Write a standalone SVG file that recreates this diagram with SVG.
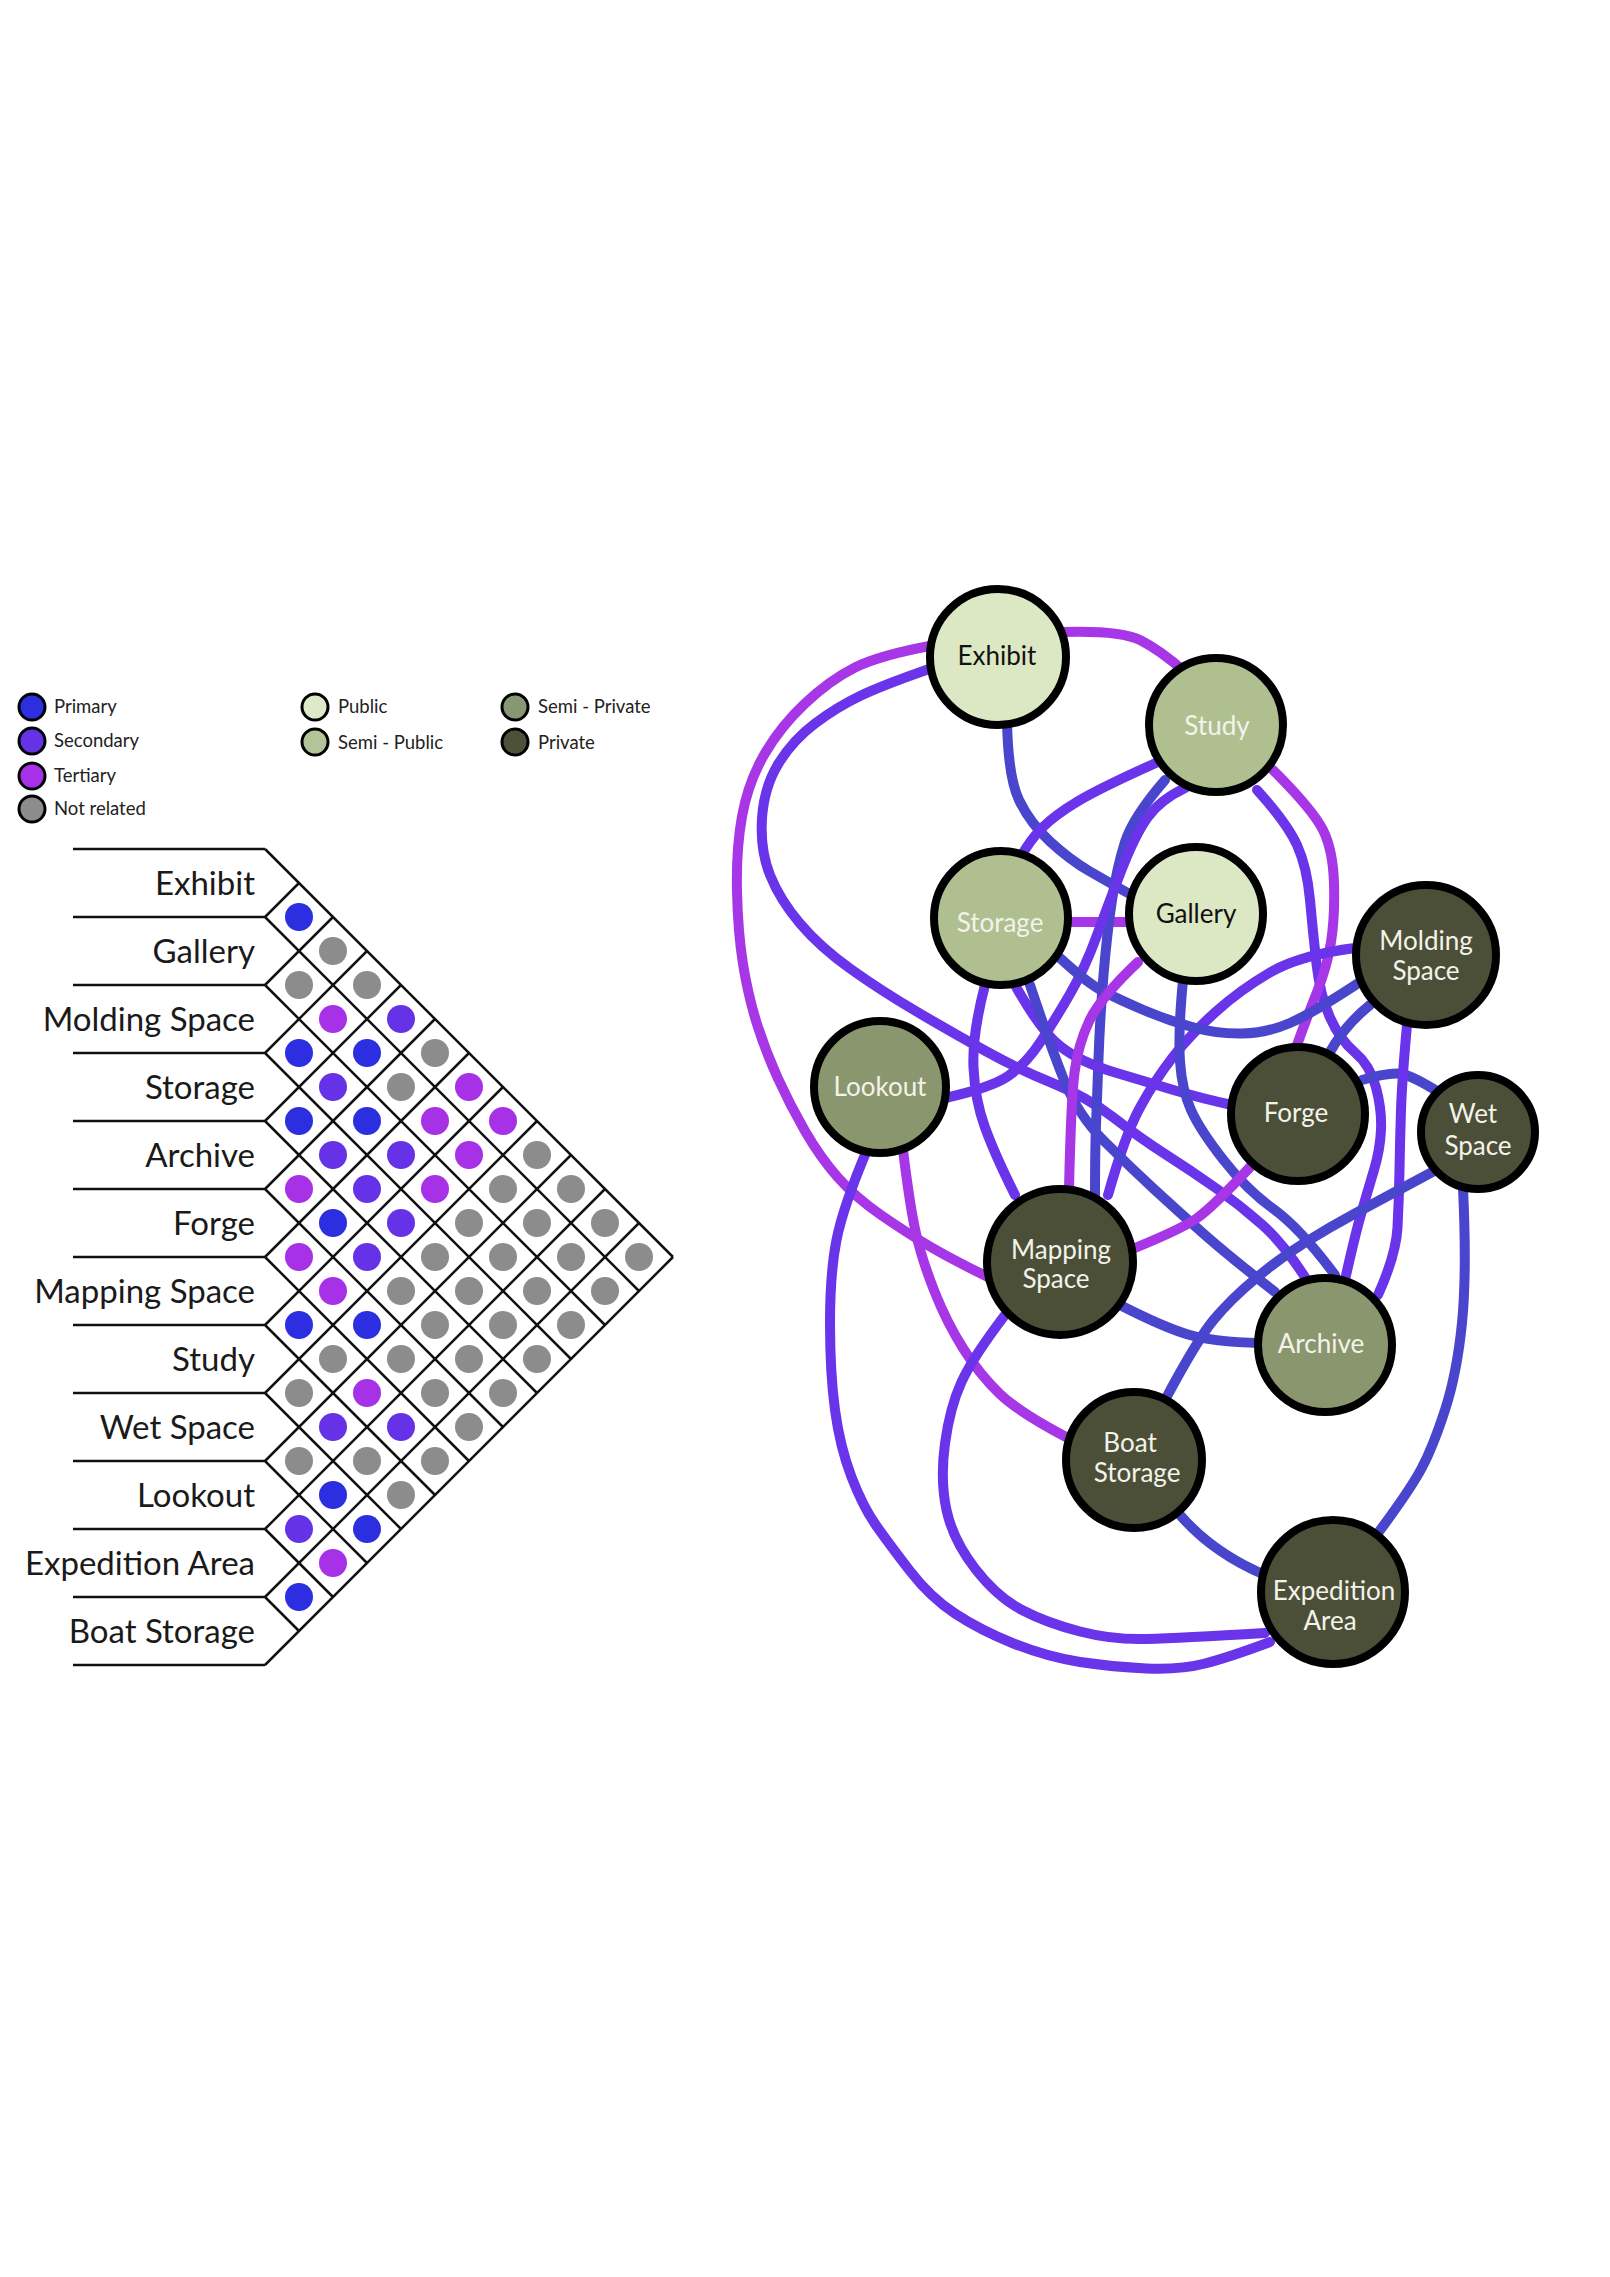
<svg xmlns="http://www.w3.org/2000/svg" width="1610" height="2277" viewBox="0 0 1610 2277">
<style>
.ln{fill:none;stroke-width:10;stroke-linecap:round;stroke-linejoin:round}
.p{stroke:#4946cd}.s{stroke:#6a34ea}.t{stroke:#a636e6}
.nd{stroke:#000;stroke-width:8}
.pub{fill:#dce8c4}.spub{fill:#afbf90}.spri{fill:#8a976e}.pri{fill:#4c4f38}
.lbl{font-family:Lato,"Liberation Sans",sans-serif;font-size:26px;text-anchor:middle}
.lk{fill:#111}.lw{fill:#f3f3ea}
.mt{font-family:Lato,"Liberation Sans",sans-serif;font-size:33px;text-anchor:end;fill:#1a1a1a}
.lg{font-family:Lato,"Liberation Sans",sans-serif;font-size:18.5px;fill:#222}
.grid{stroke:#111;stroke-width:2.5;fill:none}
.lc{stroke:#000;stroke-width:3}
.cp{fill:#2b2fe0}.cs{fill:#6632e8}.ct{fill:#a631e6}.cn{fill:#8c8c8c}
</style>
<rect width="1610" height="2277" fill="#fff"/>

<g id="legend">
<circle class="lc cp" cx="32" cy="707" r="13"/><text class="lg" x="54" y="713">Primary</text>
<circle class="lc cs" cx="32" cy="741" r="13"/><text class="lg" x="54" y="747">Secondary</text>
<circle class="lc ct" cx="32" cy="776" r="13"/><text class="lg" x="54" y="782">Tertiary</text>
<circle class="lc cn" cx="32" cy="809" r="13"/><text class="lg" x="54" y="815">Not related</text>
<circle class="lc" fill="#dde9c8" cx="315" cy="707" r="13"/><text class="lg" x="338" y="713">Public</text>
<circle class="lc" fill="#b3c498" cx="315" cy="742" r="13"/><text class="lg" x="338" y="749">Semi - Public</text>
<circle class="lc" fill="#879774" cx="515" cy="707" r="13"/><text class="lg" x="538" y="713">Semi - Private</text>
<circle class="lc" fill="#4d5139" cx="515" cy="742" r="13"/><text class="lg" x="538" y="749">Private</text>
</g>

<g id="matrix">
<path class="grid" d="M73,849H265M73,917H265M73,985H265M73,1053H265M73,1121H265M73,1189H265M73,1257H265M73,1325H265M73,1393H265M73,1461H265M73,1529H265M73,1597H265M73,1665H265
M265,849L673,1257M265,917L639,1291M265,985L605,1325M265,1053L571,1359M265,1121L537,1393M265,1189L503,1427M265,1257L469,1461M265,1325L435,1495M265,1393L401,1529M265,1461L367,1563M265,1529L333,1597M265,1597L299,1631
M265,917L299,883M265,985L333,917M265,1053L367,951M265,1121L401,985M265,1189L435,1019M265,1257L469,1053M265,1325L503,1087M265,1393L537,1121M265,1461L571,1155M265,1529L605,1189M265,1597L639,1223M265,1665L673,1257"/>
<text class="mt" x="255" y="895">Exhibit</text>
<text class="mt" x="255" y="963">Gallery</text>
<text class="mt" x="255" y="1031">Molding Space</text>
<text class="mt" x="255" y="1099">Storage</text>
<text class="mt" x="255" y="1167">Archive</text>
<text class="mt" x="255" y="1235">Forge</text>
<text class="mt" x="255" y="1303">Mapping Space</text>
<text class="mt" x="255" y="1371">Study</text>
<text class="mt" x="255" y="1439">Wet Space</text>
<text class="mt" x="255" y="1507">Lookout</text>
<text class="mt" x="255" y="1575">Expedition Area</text>
<text class="mt" x="255" y="1643">Boat Storage</text>
<g id="matrix-dots">
<circle class="cp" cx="299" cy="917" r="14"/>
<circle class="cn" cx="333" cy="951" r="14"/>
<circle class="cn" cx="299" cy="985" r="14"/>
<circle class="cn" cx="367" cy="985" r="14"/>
<circle class="ct" cx="333" cy="1019" r="14"/>
<circle class="cs" cx="401" cy="1019" r="14"/>
<circle class="cp" cx="299" cy="1053" r="14"/>
<circle class="cp" cx="367" cy="1053" r="14"/>
<circle class="cn" cx="435" cy="1053" r="14"/>
<circle class="cs" cx="333" cy="1087" r="14"/>
<circle class="cn" cx="401" cy="1087" r="14"/>
<circle class="ct" cx="469" cy="1087" r="14"/>
<circle class="cp" cx="299" cy="1121" r="14"/>
<circle class="cp" cx="367" cy="1121" r="14"/>
<circle class="ct" cx="435" cy="1121" r="14"/>
<circle class="ct" cx="503" cy="1121" r="14"/>
<circle class="cs" cx="333" cy="1155" r="14"/>
<circle class="cs" cx="401" cy="1155" r="14"/>
<circle class="ct" cx="469" cy="1155" r="14"/>
<circle class="cn" cx="537" cy="1155" r="14"/>
<circle class="ct" cx="299" cy="1189" r="14"/>
<circle class="cs" cx="367" cy="1189" r="14"/>
<circle class="ct" cx="435" cy="1189" r="14"/>
<circle class="cn" cx="503" cy="1189" r="14"/>
<circle class="cn" cx="571" cy="1189" r="14"/>
<circle class="cp" cx="333" cy="1223" r="14"/>
<circle class="cs" cx="401" cy="1223" r="14"/>
<circle class="cn" cx="469" cy="1223" r="14"/>
<circle class="cn" cx="537" cy="1223" r="14"/>
<circle class="cn" cx="605" cy="1223" r="14"/>
<circle class="ct" cx="299" cy="1257" r="14"/>
<circle class="cs" cx="367" cy="1257" r="14"/>
<circle class="cn" cx="435" cy="1257" r="14"/>
<circle class="cn" cx="503" cy="1257" r="14"/>
<circle class="cn" cx="571" cy="1257" r="14"/>
<circle class="cn" cx="639" cy="1257" r="14"/>
<circle class="ct" cx="333" cy="1291" r="14"/>
<circle class="cn" cx="401" cy="1291" r="14"/>
<circle class="cn" cx="469" cy="1291" r="14"/>
<circle class="cn" cx="537" cy="1291" r="14"/>
<circle class="cn" cx="605" cy="1291" r="14"/>
<circle class="cp" cx="299" cy="1325" r="14"/>
<circle class="cp" cx="367" cy="1325" r="14"/>
<circle class="cn" cx="435" cy="1325" r="14"/>
<circle class="cn" cx="503" cy="1325" r="14"/>
<circle class="cn" cx="571" cy="1325" r="14"/>
<circle class="cn" cx="333" cy="1359" r="14"/>
<circle class="cn" cx="401" cy="1359" r="14"/>
<circle class="cn" cx="469" cy="1359" r="14"/>
<circle class="cn" cx="537" cy="1359" r="14"/>
<circle class="cn" cx="299" cy="1393" r="14"/>
<circle class="ct" cx="367" cy="1393" r="14"/>
<circle class="cn" cx="435" cy="1393" r="14"/>
<circle class="cn" cx="503" cy="1393" r="14"/>
<circle class="cs" cx="333" cy="1427" r="14"/>
<circle class="cs" cx="401" cy="1427" r="14"/>
<circle class="cn" cx="469" cy="1427" r="14"/>
<circle class="cn" cx="299" cy="1461" r="14"/>
<circle class="cn" cx="367" cy="1461" r="14"/>
<circle class="cn" cx="435" cy="1461" r="14"/>
<circle class="cp" cx="333" cy="1495" r="14"/>
<circle class="cn" cx="401" cy="1495" r="14"/>
<circle class="cs" cx="299" cy="1529" r="14"/>
<circle class="cp" cx="367" cy="1529" r="14"/>
<circle class="ct" cx="333" cy="1563" r="14"/>
<circle class="cp" cx="299" cy="1597" r="14"/>
</g>
</g>

<g id="connectors">
<path class="ln t" d="M1060,632 Q1120,630 1140,640 Q1160,650 1185,672"/>
<path class="ln t" d="M935,645 Q880,655 855,667.5 Q830,680 805,703.5 Q780,727 764,755 Q748,783 742,816.5 Q736,850 737,891.5 Q738,933 743,964 Q748,995 756.5,1022.5 Q765,1050 777.5,1077.5 Q790,1105 805,1131 Q820,1157 837.5,1177 Q855,1197 881,1215 Q907,1233 930,1246.5 Q953,1260 990,1278"/>
<path class="ln s" d="M932,668 Q883,685 860,696 Q837,707 815,723.5 Q793,740 778.5,763.5 Q764,787 762,818.5 Q760,850 770,875 Q780,900 800,923.5 Q820,947 850,968.5 Q880,990 916.5,1011.5 Q953,1033 986.5,1051.5 Q1020,1070 1053.5,1083.5 Q1087,1097 1113.5,1117.5 Q1140,1138 1165,1154 Q1190,1170 1215,1187.5 Q1240,1205 1262.5,1225 Q1285,1245 1310,1285"/>
<path class="ln p" d="M1007,720 Q1008,777 1019,800 Q1030,823 1050,841.5 Q1070,860 1090,871.5 Q1110,883 1135,897"/>
<path class="ln t" d="M1065,922 L1132,922"/>
<path class="ln s" d="M1158,762 Q1100,788 1077.5,801.5 Q1055,815 1042.5,827.5 Q1030,840 1020,858"/>
<path class="ln p" d="M1165,780 Q1133,817 1125,842 Q1117,867 1112,900 Q1107,933 1103.5,975 Q1100,1017 1098.5,1058.5 Q1097,1100 1096,1125 Q1095,1150 1095,1200"/>
<path class="ln s" d="M945,1098 Q990,1088 1007.5,1076.5 Q1025,1065 1040,1042.5 Q1055,1020 1070,994 Q1085,968 1096.5,936.5 Q1108,905 1121.5,870 Q1135,835 1147.5,817.5 Q1160,800 1185,788"/>
<path class="ln s" d="M1257,790 Q1287,823 1297,845 Q1307,867 1310,900 Q1313,933 1316.5,964 Q1320,995 1330,1017.5 Q1340,1040 1355,1052.5 Q1370,1065 1376,1087.5 Q1382,1110 1381,1130 Q1380,1150 1374,1170 Q1368,1190 1361.5,1212.5 Q1355,1235 1345,1280"/>
<path class="ln t" d="M1273,770 Q1313,810 1323,830 Q1333,850 1334,883.5 Q1335,917 1331,942 Q1327,967 1317,992 Q1307,1017 1297,1045"/>
<path class="ln s" d="M1355,948 Q1300,955 1270,972.5 Q1240,990 1215,1012.5 Q1190,1035 1172.5,1057.5 Q1155,1080 1140,1107.5 Q1125,1135 1108,1195"/>
<path class="ln p" d="M1360,982 Q1313,1013 1290,1023 Q1267,1033 1242,1033.5 Q1217,1034 1192,1027 Q1167,1020 1143.5,1010 Q1120,1000 1103.5,991.5 Q1087,983 1060,958"/>
<path class="ln p" d="M1370,1005 Q1345,1025 1330,1052"/>
<path class="ln p" d="M1362,1080 Q1390,1072 1401.5,1074 Q1413,1076 1440,1093"/>
<path class="ln s" d="M1407,1025 Q1402,1080 1401,1110 Q1400,1140 1399.5,1170 Q1399,1200 1397.5,1227.5 Q1396,1255 1378,1295"/>
<path class="ln s" d="M1015,985 Q1040,1030 1060,1046 Q1080,1062 1113.5,1072 Q1147,1082 1173.5,1090 Q1200,1098 1232,1105"/>
<path class="ln p" d="M1030,985 Q1050,1045 1064,1080 Q1078,1115 1104,1141 Q1130,1167 1155,1190 Q1180,1213 1205,1235 Q1230,1257 1275,1292"/>
<path class="ln s" d="M985,985 Q972,1035 973.5,1067.5 Q975,1100 985,1127.5 Q995,1155 1015,1195"/>
<path class="ln t" d="M1138,962 Q1100,998 1089,1021.5 Q1078,1045 1074.5,1072.5 Q1071,1100 1069,1190"/>
<path class="ln p" d="M1183,980 Q1178,1033 1180,1061.5 Q1182,1090 1191,1110 Q1200,1130 1223.5,1160 Q1247,1190 1273.5,1209 Q1300,1228 1335,1275"/>
<path class="ln t" d="M1252,1165 Q1213,1207 1196.5,1218.5 Q1180,1230 1125,1252"/>
<path class="ln p" d="M1120,1305 Q1163,1327 1188,1334.5 Q1213,1342 1260,1343"/>
<path class="ln p" d="M1436,1170 Q1380,1200 1355,1213.5 Q1330,1227 1305,1242.5 Q1280,1258 1255,1279 Q1230,1300 1213.5,1320 Q1197,1340 1165,1400"/>
<path class="ln p" d="M1463,1188 Q1467,1273 1462,1323 Q1457,1373 1445,1410 Q1433,1447 1421.5,1468.5 Q1410,1490 1378,1533"/>
<path class="ln p" d="M1180,1515 Q1213,1553 1265,1575"/>
<path class="ln t" d="M903,1150 Q910,1207 916,1233.5 Q922,1260 934.5,1291.5 Q947,1323 963.5,1349 Q980,1375 1000,1394 Q1020,1413 1068,1438"/>
<path class="ln s" d="M867,1150 Q843,1207 836.5,1240 Q830,1273 830,1323 Q830,1373 835,1410 Q840,1447 851.5,1477 Q863,1507 876.5,1526 Q890,1545 910,1571 Q930,1597 955,1613.5 Q980,1630 1013.5,1643.5 Q1047,1657 1080,1662 Q1113,1667 1146.5,1668.5 Q1180,1670 1205,1663.5 Q1230,1657 1270,1642"/>
<path class="ln s" d="M1005,1315 Q973,1357 961.5,1382 Q950,1407 945,1443.5 Q940,1480 946.5,1510 Q953,1540 975,1568.5 Q997,1597 1022,1610 Q1047,1623 1080,1631.5 Q1113,1640 1146.5,1639 Q1180,1638 1265,1633"/>
</g>

<g id="node-exhibit"><circle class="nd pub" cx="998" cy="657" r="68"/><text class="lbl lk" x="997" y="665">Exhibit</text></g>
<g id="node-study"><circle class="nd spub" cx="1216" cy="725" r="67"/><text class="lbl lw" x="1217" y="735">Study</text></g>
<g id="node-storage"><circle class="nd spub" cx="1001" cy="918" r="67"/><text class="lbl lw" x="1000" y="932">Storage</text></g>
<g id="node-gallery"><circle class="nd pub" cx="1196" cy="914" r="67"/><text class="lbl lk" x="1196" y="923">Gallery</text></g>
<g id="node-molding"><circle class="nd pri" cx="1426" cy="955" r="70"/><text class="lbl lw" x="1426" y="950">Molding</text><text class="lbl lw" x="1426" y="980">Space</text></g>
<g id="node-lookout"><circle class="nd spri" cx="880" cy="1087" r="66"/><text class="lbl lw" x="880" y="1096">Lookout</text></g>
<g id="node-forge"><circle class="nd pri" cx="1298" cy="1114" r="67"/><text class="lbl lw" x="1296" y="1122">Forge</text></g>
<g id="node-wet"><circle class="nd pri" cx="1478" cy="1132" r="57"/><text class="lbl lw" x="1473" y="1123">Wet</text><text class="lbl lw" x="1478" y="1155">Space</text></g>
<g id="node-mapping"><circle class="nd pri" cx="1060" cy="1262" r="73"/><text class="lbl lw" x="1061" y="1259">Mapping</text><text class="lbl lw" x="1056" y="1288">Space</text></g>
<g id="node-archive"><circle class="nd spri" cx="1325" cy="1345" r="67"/><text class="lbl lw" x="1321" y="1353">Archive</text></g>
<g id="node-boat"><circle class="nd pri" cx="1134" cy="1460" r="68"/><text class="lbl lw" x="1130" y="1452">Boat</text><text class="lbl lw" x="1137" y="1482">Storage</text></g>
<g id="node-expedition"><circle class="nd pri" cx="1333" cy="1592" r="72"/><text class="lbl lw" x="1334" y="1600">Expedition</text><text class="lbl lw" x="1330" y="1630">Area</text></g>
</svg>
